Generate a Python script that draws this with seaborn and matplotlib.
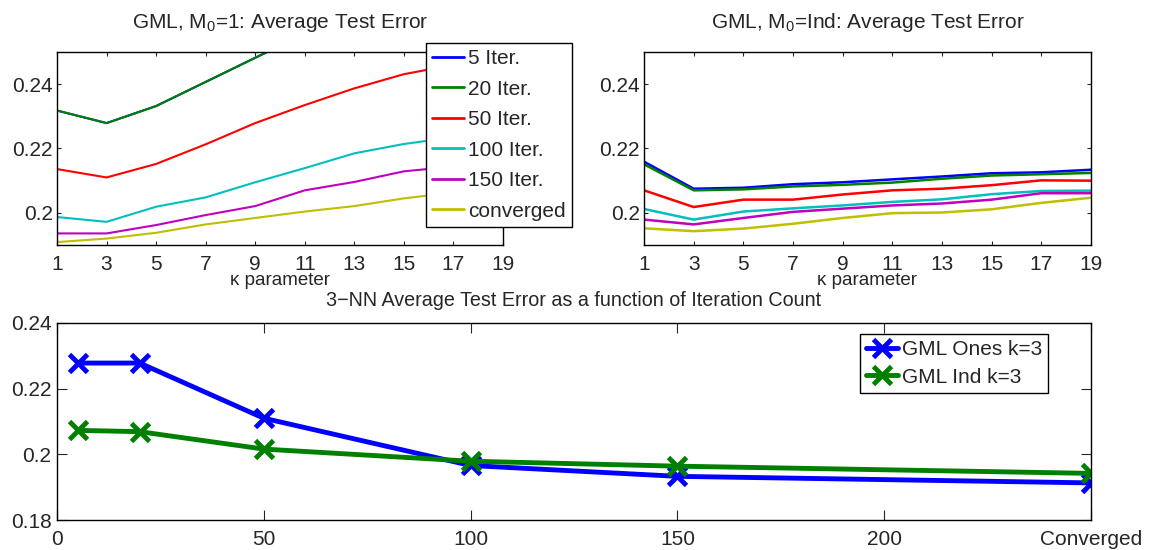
import numpy as np
import pandas as pd
import matplotlib
matplotlib.use("Agg")
import matplotlib.pyplot as plt
import seaborn as sns

# kappa parameter values (x axis of the two top panels)
kappa = [1, 3, 5, 7, 9, 11, 13, 15, 17, 19]
series_names = ["5 Iter.", "20 Iter.", "50 Iter.", "100 Iter.", "150 Iter.", "converged"]

# GML, M0=1 average test error per iteration count
ones_5 = [0.2318, 0.2279, 0.2332, 0.2407, 0.2482, 0.2557, 0.2630, 0.2700, 0.2760, 0.2820]
ones_20 = [0.2318, 0.2279, 0.2332, 0.2407, 0.2482, 0.2557, 0.2630, 0.2700, 0.2760, 0.2820]
ones_50 = [0.2136, 0.2110, 0.2152, 0.2213, 0.2279, 0.2335, 0.2387, 0.2431, 0.2460, 0.2500]
ones_100 = [0.1987, 0.1972, 0.2019, 0.2048, 0.2095, 0.2139, 0.2185, 0.2214, 0.2235, 0.2260]
ones_150 = [0.1936, 0.1936, 0.1962, 0.1993, 0.2021, 0.2070, 0.2096, 0.2129, 0.2144, 0.2170]
ones_conv = [0.1909, 0.1920, 0.1938, 0.1964, 0.1984, 0.2004, 0.2021, 0.2045, 0.2063, 0.2090]

# GML, M0=Ind average test error per iteration count
ind_5 = [0.2159, 0.2075, 0.2078, 0.2089, 0.2095, 0.2104, 0.2113, 0.2123, 0.2126, 0.2134]
ind_20 = [0.2151, 0.2070, 0.2073, 0.2082, 0.2087, 0.2094, 0.2106, 0.2116, 0.2120, 0.2124]
ind_50 = [0.2070, 0.2018, 0.2041, 0.2041, 0.2057, 0.2070, 0.2075, 0.2086, 0.2101, 0.2100]
ind_100 = [0.2012, 0.1979, 0.2004, 0.2014, 0.2023, 0.2034, 0.2042, 0.2058, 0.2068, 0.2069]
ind_150 = [0.1979, 0.1964, 0.1984, 0.2003, 0.2013, 0.2023, 0.2029, 0.2041, 0.2061, 0.2061]
ind_conv = [0.1952, 0.1943, 0.1951, 0.1966, 0.1984, 0.1999, 0.2001, 0.2011, 0.2031, 0.2047]

# 3-NN error vs iteration count (converged placed at 250)
iters = [5, 20, 50, 100, 150, 250]
iter_ticks = [0, 50, 100, 150, 200, 250]
iter_labels = ["0", "50", "100", "150", "200", "Converged"]
nn_ones = [0.2278, 0.2278, 0.2110, 0.1966, 0.1933, 0.1913]
nn_ind = [0.2073, 0.2069, 0.2016, 0.1979, 0.1964, 0.1942]

colors = [(0, 0, 1), (0, 0.5, 0), (1, 0, 0), (0, 0.75, 0.75), (0.75, 0, 0.75), (0.75, 0.75, 0)]

sns.set_style("ticks")
plt.rcParams["font.family"] = ["Liberation Sans", "DejaVu Sans"]
plt.rcParams["mathtext.default"] = "regular"
plt.rcParams["xtick.direction"] = "in"
plt.rcParams["ytick.direction"] = "in"
plt.rcParams["xtick.top"] = True
plt.rcParams["ytick.right"] = True
plt.rcParams["axes.edgecolor"] = "black"
plt.rcParams["axes.linewidth"] = 1.0

W, H = 1149, 550
fig = plt.figure(figsize=(W / 100, H / 100), dpi=100)


def px_axes(l, t, r, b):
    return fig.add_axes([l / W, 1 - b / H, (r - l) / W, (b - t) / H])


def long_df(series_list):
    rows = []
    for name, vals in zip(series_names, series_list):
        for k, v in zip(kappa, vals):
            rows.append({"kappa": k, "err": v, "series": name})
    return pd.DataFrame(rows)


def style_top(ax, title):
    ax.set_xlim(1, 19)
    ax.set_ylim(0.19, 0.25)
    ax.set_xticks(kappa)
    ax.set_yticks([0.2, 0.22, 0.24])
    ax.set_yticklabels(["0.2", "0.22", "0.24"])
    ax.tick_params(labelsize=15, length=3, width=0.8)
    ax.tick_params(axis="x", pad=7)
    ax.tick_params(axis="y", pad=3)
    ax.set_xlabel("κ parameter", fontsize=13.5, labelpad=-1)
    ax.set_ylabel("")
    ax.set_title(title, fontsize=15, pad=17)


ax1 = px_axes(57, 52, 503, 245)
df1 = long_df([ones_5, ones_20, ones_50, ones_100, ones_150, ones_conv])
sns.lineplot(data=df1, x="kappa", y="err", hue="series", palette=colors,
             linewidth=1.5, ax=ax1, legend=True)
style_top(ax1, "GML, M$_0$=1: Average Test Error")
h, l = ax1.get_legend_handles_labels()
ax1.get_legend().remove()
leg1 = fig.legend(h, l, loc="upper left", bbox_to_anchor=(426 / W, 1 - 43 / H),
                  frameon=True, fancybox=False, framealpha=1, edgecolor="black",
                  fontsize=15, handlelength=1.5, handletextpad=0.2,
                  labelspacing=0.55, borderpad=0.3, borderaxespad=0)
leg1.get_frame().set_linewidth(1.0)
for line in leg1.get_lines():
    line.set_linewidth(2)

ax2 = px_axes(644, 52, 1091, 245)
df2 = long_df([ind_5, ind_20, ind_50, ind_100, ind_150, ind_conv])
sns.lineplot(data=df2, x="kappa", y="err", hue="series", palette=colors,
             linewidth=1.8, ax=ax2, legend=False)
style_top(ax2, "GML, M$_0$=Ind: Average Test Error")

ax3 = px_axes(57, 323, 1091, 520)
sns.lineplot(x=iters, y=nn_ones, color=(0, 0, 1), linewidth=3.5, marker="x",
             markersize=13, markeredgewidth=3.5, markeredgecolor=(0, 0, 1),
             label="GML Ones k=3", ax=ax3)
sns.lineplot(x=iters, y=nn_ind, color=(0, 0.5, 0), linewidth=3.5, marker="x",
             markersize=13, markeredgewidth=3.5, markeredgecolor=(0, 0.5, 0),
             label="GML Ind k=3", ax=ax3)
ax3.set_xlim(0, 250)
ax3.set_ylim(0.18, 0.24)
ax3.set_xticks(iter_ticks)
ax3.set_xticklabels(iter_labels)
ax3.set_yticks([0.18, 0.2, 0.22, 0.24])
ax3.set_yticklabels(["0.18", "0.2", "0.22", "0.24"])
ax3.tick_params(labelsize=15, length=7, width=0.8)
ax3.tick_params(axis="x", pad=7)
ax3.tick_params(axis="y", pad=4)
ax3.set_title("3−NN Average Test Error as a function of Iteration Count",
              fontsize=14.2, pad=12)
h3, l3 = ax3.get_legend_handles_labels()
ax3.get_legend().remove()
leg3 = fig.legend(h3, l3, loc="upper left", bbox_to_anchor=(860 / W, 1 - 334 / H),
                  frameon=True, fancybox=False, framealpha=1, edgecolor="black",
                  fontsize=15, handlelength=1.5, handletextpad=0.2,
                  labelspacing=0.4, borderpad=0.3, borderaxespad=0)
leg3.get_frame().set_linewidth(1.0)

fig.savefig("out.png", dpi=100)
